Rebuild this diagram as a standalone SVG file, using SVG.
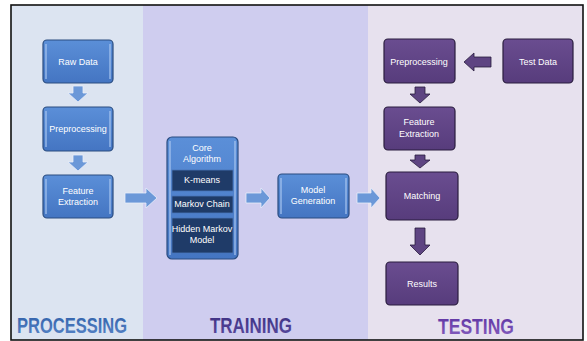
<svg xmlns="http://www.w3.org/2000/svg" width="587" height="341" viewBox="0 0 587 341">
<defs>
<linearGradient id="gb" x1="0" y1="0" x2="0" y2="1">
<stop offset="0" stop-color="#5b8fd8"/><stop offset="1" stop-color="#4475c2"/>
</linearGradient>
<linearGradient id="gp" x1="0" y1="0" x2="0" y2="1">
<stop offset="0" stop-color="#6a4d90"/><stop offset="1" stop-color="#573c7c"/>
</linearGradient>
<linearGradient id="gl" x1="0" y1="0" x2="0" y2="1">
<stop offset="0" stop-color="#2f5fa8"/><stop offset="1" stop-color="#5a86c8"/>
</linearGradient>
<linearGradient id="gt" x1="0" y1="0" x2="0" y2="1">
<stop offset="0" stop-color="#3c2f80"/><stop offset="1" stop-color="#5a4aa0"/>
</linearGradient>
<linearGradient id="gs" x1="0" y1="0" x2="0" y2="1">
<stop offset="0" stop-color="#5a30a0"/><stop offset="1" stop-color="#8860c0"/>
</linearGradient>
</defs>
<style>
.bb{fill:url(#gb);stroke:#2b4d80;stroke-width:1.2}
.pb{fill:url(#gp);stroke:#2a1d3e;stroke-width:1.2}
.ib{fill:#1f3b68;stroke:#4a76b8;stroke-width:0.8}
.ba{fill:#6b98d8;stroke:#e8eefa;stroke-width:0.8}
.pa{fill:#5e4482;stroke:#2a1d3e;stroke-width:0.8}
.hl{fill:none;stroke:#a9c6f0;stroke-width:1.2}
text{font-family:"Liberation Sans",Arial,sans-serif;fill:#ffffff;font-size:9px;text-anchor:middle}
.lbl{font-size:22px;font-weight:bold;text-anchor:start}
</style>
<rect x="0" y="0" width="587" height="341" fill="#ffffff"/>
<rect x="11" y="5" width="132" height="335" fill="#dce4f1"/>
<rect x="143" y="5" width="225" height="335" fill="#cfcdef"/>
<rect x="368" y="5" width="215" height="335" fill="#e7e1ee"/>
<rect x="11" y="5" width="572" height="335" fill="none" stroke="#111111" stroke-width="1.6"/>
<g id="connectors">
<path class="ba" d="M73 86 H83 V93 H88 L78 102 L68 93 H73 Z"/>
<path class="ba" d="M73 155 H83 V162 H88 L78 171 L68 162 H73 Z"/>
<path class="ba" d="M125 193 H146 V188 L157 198 L146 208 V203 H125 Z"/>
<path class="ba" d="M246 193 H261 V188 L270 198 L261 208 V203 H246 Z"/>
<path class="ba" d="M357 193 H371 V188 L380 198 L371 208 V203 H357 Z"/>
<path class="pa" d="M491 57 H474 V53 L464 62 L474 71 V67 H491 Z"/>
<path class="pa" d="M415 87 H425 V94 H430 L420 103 L410 94 H415 Z"/>
<path class="pa" d="M415 155 H425 V160 H430 L420 168 L410 160 H415 Z"/>
<path class="pa" d="M415 228 H425 V245 H430 L420 255 L410 245 H415 Z"/>
</g>
<g id="raw-data">
<rect class="bb" x="43" y="40" width="70" height="43" rx="4"/>
<line class="hl" x1="46" y1="44" x2="46" y2="79"/><line class="hl" x1="110" y1="44" x2="110" y2="79"/>
<text x="78" y="65">Raw Data</text>
</g>
<g id="preprocessing">
<rect class="bb" x="43" y="107" width="70" height="44" rx="4"/>
<line class="hl" x1="46" y1="111" x2="46" y2="147"/><line class="hl" x1="110" y1="111" x2="110" y2="147"/>
<text x="78" y="132">Preprocessing</text>
</g>
<g id="feature-extraction">
<rect class="bb" x="43" y="175" width="70" height="43" rx="4"/>
<line class="hl" x1="46" y1="179" x2="46" y2="214"/><line class="hl" x1="110" y1="179" x2="110" y2="214"/>
<text x="78" y="194">Feature</text>
<text x="78" y="205">Extraction</text>
</g>
<g id="core-algorithm">
<rect class="bb" x="167" y="137" width="71" height="122" rx="5"/>
<line class="hl" x1="170" y1="141" x2="170" y2="255"/><line class="hl" x1="235" y1="141" x2="235" y2="255"/>
<text x="202" y="151">Core</text>
<text x="202" y="162">Algorithm</text>
<rect class="ib" x="172" y="170" width="61" height="21"/>
<text x="202" y="183" font-size="8">K-means</text>
<rect class="ib" x="172" y="196" width="61" height="17"/>
<text x="202" y="207" font-size="8">Markov Chain</text>
<rect class="ib" x="172" y="218" width="61" height="35"/>
<text x="202" y="232" font-size="8">Hidden Markov</text>
<text x="202" y="243" font-size="8">Model</text>
</g>
<g id="model-generation">
<rect class="bb" x="278" y="174" width="71" height="44" rx="4"/>
<line class="hl" x1="281" y1="178" x2="281" y2="214"/><line class="hl" x1="346" y1="178" x2="346" y2="214"/>
<text x="313" y="193">Model</text>
<text x="313" y="204">Generation</text>
</g>
<g id="test-preprocessing">
<rect class="pb" x="384" y="39" width="71" height="44" rx="4"/>
<text x="419" y="65">Preprocessing</text>
</g>
<g id="test-data">
<rect class="pb" x="503" y="39" width="70" height="44" rx="4"/>
<text x="538" y="65">Test Data</text>
</g>
<g id="test-feature-extraction">
<rect class="pb" x="384" y="107" width="71" height="43" rx="4"/>
<text x="419" y="125">Feature</text>
<text x="419" y="137">Extraction</text>
</g>
<g id="matching">
<rect class="pb" x="386" y="172" width="72" height="48" rx="4"/>
<text x="422" y="199">Matching</text>
</g>
<g id="results">
<rect class="pb" x="386" y="262" width="72" height="43" rx="4"/>
<text x="422" y="287">Results</text>
</g>
<g id="labels">
<text class="lbl" x="17" y="333" textLength="110" lengthAdjust="spacingAndGlyphs" fill="url(#gl)" style="fill:url(#gl)">PROCESSING</text>
<text class="lbl" x="210" y="333" textLength="82" lengthAdjust="spacingAndGlyphs" style="fill:url(#gt)">TRAINING</text>
<text class="lbl" x="438" y="334" textLength="76" lengthAdjust="spacingAndGlyphs" style="fill:url(#gs)">TESTING</text>
</g>
</svg>
